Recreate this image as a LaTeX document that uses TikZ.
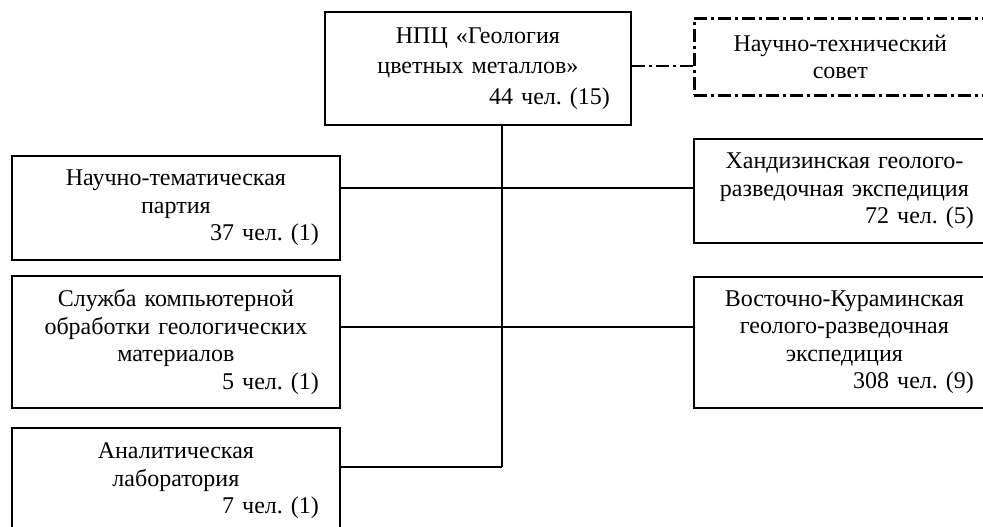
\documentclass[tikz,border=0pt]{standalone}
\usepackage{fontspec}
\setmainfont{Liberation Serif}
\frenchspacing
\newcommand{\cnt}[1]{\hskip 0pt plus 1filll #1}
\begin{document}
\begin{tikzpicture}[x=1pt,y=-1pt,
	dept/.style={draw,line width=1.8pt,anchor=north west,align=center,inner xsep=21pt,inner ysep=0pt,font=\fontsize{24}{27.5}\selectfont},
	council/.style={dept,line width=2.6pt,dash pattern=on 13pt off 4pt on 3pt off 4pt},
	link/.style={line width=1.8pt},
	dlink/.style={line width=2.6pt,dash pattern=on 13pt off 4pt on 3pt off 4pt}]
	\useasboundingbox (0,0) rectangle (983,527);
	% head and council
	\node[dept,text width=264pt,minimum height=113pt,font=\fontsize{24}{30.5}\selectfont] (npc) at (324,11) {НПЦ «Геология\\цветных металлов»\\\cnt{44 чел. (15)}};
	\node[council,text width=250pt,minimum height=77pt] (tsv) at (693,17) {Научно-технический\\совет};
	% left units
	\node[dept,text width=286pt,minimum height=104pt] (sci) at (11,155) {Научно-тематическая\\партия\\\cnt{37 чел. (1)}};
	\node[dept,text width=286pt,minimum height=132pt] (comp) at (11,275) {Служба компьютерной\\обработки геологических\\материалов\\\cnt{5 чел. (1)}};
	\node[dept,text width=286pt,minimum height=106pt] (lab) at (11,427) {Аналитическая\\лаборатория\\\cnt{7 чел. (1)}};
	% right units
	\node[dept,text width=259pt,minimum height=104pt] (khand) at (693,138) {Хандизинская геолого-\\разведочная экспедиция\\\cnt{72 чел. (5)}};
	\node[dept,text width=259pt,minimum height=131pt] (vk) at (693,276) {Восточно-Кураминская\\геолого-разведочная\\экспедиция\\\cnt{308 чел. (9)}};
	% trunk
	\coordinate (t0) at (660,66);
	\coordinate (t1) at (502,188);
	\coordinate (t2) at (502,327);
	\coordinate (t3) at (502,467);
	\draw[dlink] (npc.east |- t0) -- (tsv.west |- t0);
	\draw[link] (npc.south -| t3) -- (t3);
	\draw[link] (sci.east |- t1) -- (khand.west |- t1);
	\draw[link] (comp.east |- t2) -- (vk.west |- t2);
	\draw[link] (lab.east |- t3) -- (t3);
\end{tikzpicture}
\end{document}
